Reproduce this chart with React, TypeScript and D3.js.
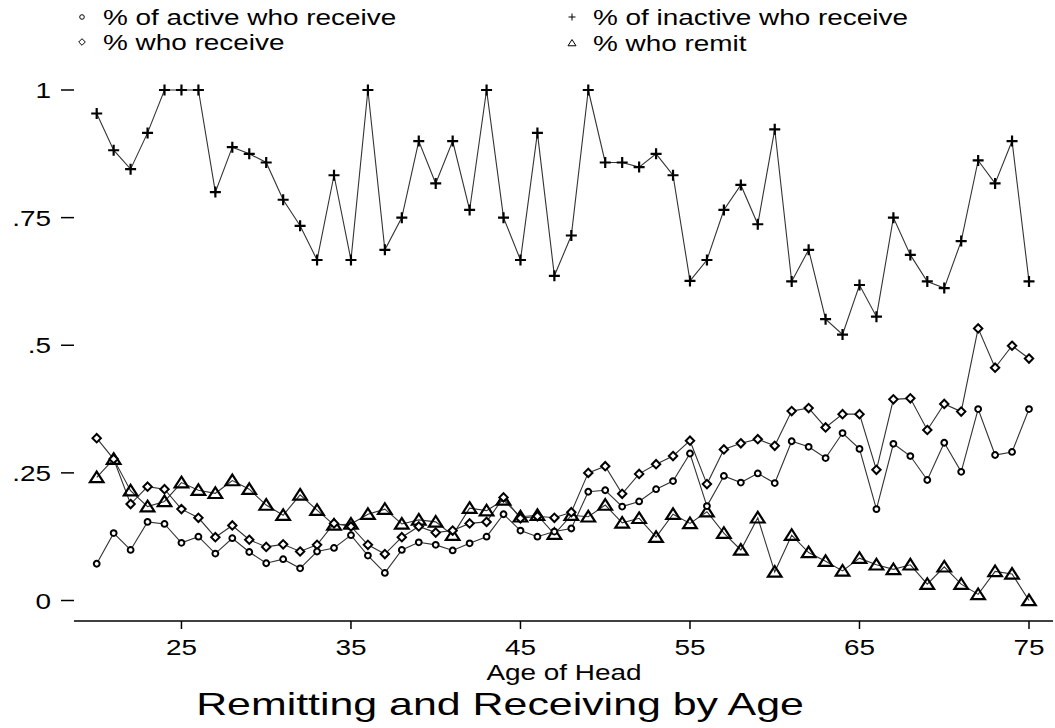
import React, { useEffect, useRef } from 'react';
import * as d3 from 'd3';

// ages of household head (x axis)
const ages = [
  20, 21, 22, 23, 24, 25, 26, 27, 28, 29,
  30, 31, 32, 33, 34, 35, 36, 37, 38, 39,
  40, 41, 42, 43, 44, 45, 46, 47, 48, 49,
  50, 51, 52, 53, 54, 55, 56, 57, 58, 59,
  60, 61, 62, 63, 64, 65, 66, 67, 68, 69,
  70, 71, 72, 73, 74, 75,
];

const activeReceive = [
  0.072, 0.132, 0.099, 0.154, 0.150, 0.113, 0.125, 0.092, 0.122, 0.095,
  0.073, 0.081, 0.063, 0.096, 0.103, 0.128, 0.088, 0.054, 0.099, 0.114,
  0.109, 0.098, 0.112, 0.125, 0.169, 0.137, 0.125, 0.135, 0.141, 0.213,
  0.216, 0.184, 0.194, 0.218, 0.234, 0.288, 0.185, 0.244, 0.231, 0.249,
  0.230, 0.312, 0.301, 0.279, 0.328, 0.297, 0.179, 0.307, 0.283, 0.236,
  0.309, 0.252, 0.375, 0.285, 0.291, 0.375,
];

const inactiveReceive = [
  0.954, 0.882, 0.845, 0.916, 1, 1, 1, 0.800, 0.888, 0.875,
  0.858, 0.785, 0.734, 0.667, 0.833, 0.667, 1, 0.687, 0.750, 0.900,
  0.817, 0.900, 0.765, 1, 0.750, 0.667, 0.916, 0.636, 0.715, 1,
  0.858, 0.858, 0.849, 0.875, 0.833, 0.626, 0.667, 0.765, 0.814, 0.737,
  0.923, 0.625, 0.687, 0.551, 0.521, 0.618, 0.556, 0.750, 0.677, 0.625,
  0.612, 0.704, 0.862, 0.817, 0.900, 0.625,
];

const allReceive = [
  0.318, 0.277, 0.189, 0.223, 0.218, 0.179, 0.162, 0.124, 0.147, 0.119,
  0.105, 0.110, 0.096, 0.109, 0.151, 0.145, 0.109, 0.091, 0.124, 0.145,
  0.133, 0.137, 0.151, 0.154, 0.202, 0.161, 0.165, 0.162, 0.173, 0.250,
  0.263, 0.209, 0.248, 0.267, 0.283, 0.313, 0.228, 0.296, 0.308, 0.316,
  0.303, 0.371, 0.377, 0.339, 0.365, 0.365, 0.256, 0.394, 0.396, 0.334,
  0.385, 0.370, 0.533, 0.456, 0.499, 0.474,
];

const remit = [
  0.241, 0.277, 0.215, 0.184, 0.194, 0.231, 0.216, 0.210, 0.235, 0.218,
  0.187, 0.167, 0.207, 0.177, 0.148, 0.150, 0.169, 0.179, 0.150, 0.158,
  0.154, 0.128, 0.181, 0.176, 0.197, 0.164, 0.167, 0.130, 0.167, 0.164,
  0.187, 0.152, 0.161, 0.124, 0.169, 0.151, 0.174, 0.132, 0.099, 0.162,
  0.056, 0.128, 0.094, 0.077, 0.058, 0.083, 0.070, 0.061, 0.070, 0.032,
  0.066, 0.032, 0.012, 0.057, 0.052, 0,
];

const xTicks = [25, 35, 45, 55, 65, 75];
const yTicks = [0, 0.25, 0.5, 0.75, 1];
const yTickLabels = ['0', '.25', '.5', '.75', '1'];

const legendLabels = [
  '% of active who receive',
  '% of inactive who receive',
  '% who receive',
  '% who remit',
];

type Shape = 'circle' | 'plus' | 'diamond' | 'triangle';

const markerPath = (shape: Shape, s: number) => {
  const p = d3.path();
  if (shape === 'circle') {
    p.arc(0, 0, s, 0, Math.PI * 2);
  } else if (shape === 'diamond') {
    p.moveTo(0, -s); p.lineTo(s, 0); p.lineTo(0, s); p.lineTo(-s, 0); p.closePath();
  } else if (shape === 'plus') {
    p.moveTo(-s, 0); p.lineTo(s, 0); p.moveTo(0, -s); p.lineTo(0, s);
  } else {
    const h = s * 0.866;
    p.moveTo(0, -h); p.lineTo(s, h * 0.8); p.lineTo(-s, h * 0.8); p.closePath();
  }
  return p.toString();
};

const W = 1055;
const H = 728;
const SX = 1.27; // the original's text is stretched sideways
const FONT = '"Liberation Sans", Arial, Helvetica, sans-serif';

const App: React.FC = () => {
  const ref = useRef<SVGSVGElement>(null);

  useEffect(() => {
    const svg = d3.select(ref.current);
    svg.html('');

    const x = d3.scaleLinear().domain([20, 75]).range([96.7, 1029]);
    const y = d3.scaleLinear().domain([0, 1]).range([600.5, 90]);

    const text = (tx: number, ty: number, str: string, size: number, anchor: string, sx = SX) =>
      svg.append('text')
        .attr('transform', `translate(${tx},${ty}) scale(${sx},1)`)
        .attr('text-anchor', anchor)
        .attr('font-family', FONT)
        .attr('font-size', size)
        .attr('fill', '#000')
        .text(str);

    // x axis
    const axisY = 621;
    svg.append('line')
      .attr('x1', 74).attr('x2', 1053)
      .attr('y1', axisY).attr('y2', axisY)
      .attr('stroke', '#000').attr('stroke-width', 1.5);
    xTicks.forEach(t => {
      svg.append('line')
        .attr('x1', x(t)).attr('x2', x(t))
        .attr('y1', axisY).attr('y2', axisY + 8)
        .attr('stroke', '#000').attr('stroke-width', 1.5);
      text(x(t), 655, String(t), 22, 'middle');
    });
    text(564, 680, 'Age of Head', 22, 'middle');

    // y axis (ticks only)
    yTicks.forEach((t, i) => {
      svg.append('line')
        .attr('x1', 61).attr('x2', 74)
        .attr('y1', y(t)).attr('y2', y(t))
        .attr('stroke', '#000').attr('stroke-width', 1.5);
      text(51, y(t) + 8, yTickLabels[i], 22, 'end');
    });

    text(500, 715, 'Remitting and Receiving by Age', 32, 'middle', 1.34);

    const series: { values: number[]; shape: Shape; size: number; sw: number; fill: string }[] = [
      { values: inactiveReceive, shape: 'plus', size: 5.5, sw: 2.2, fill: 'none' },
      { values: remit, shape: 'triangle', size: 6.8, sw: 2.2, fill: 'none' },
      { values: allReceive, shape: 'diamond', size: 4.2, sw: 2, fill: '#fff' },
      { values: activeReceive, shape: 'circle', size: 2.9, sw: 2, fill: '#fff' },
    ];

    const line = d3.line<number>()
      .x((_, i) => x(ages[i]))
      .y(d => y(d));

    series.forEach(s => {
      svg.append('path')
        .attr('d', line(s.values))
        .attr('fill', 'none')
        .attr('stroke', '#333')
        .attr('stroke-width', 1.1);
    });

    series.forEach(s => {
      svg.append('g')
        .selectAll('path')
        .data(s.values)
        .enter()
        .append('path')
        .attr('transform', (d, i) => `translate(${x(ages[i])},${y(d)})`)
        .attr('d', markerPath(s.shape, s.size))
        .attr('fill', s.fill)
        .attr('stroke', '#000')
        .attr('stroke-width', s.sw);
    });

    // legend, two columns
    const legend = [
      { shape: 'circle' as Shape, size: 2.3, cx: 82, cy: 17 },
      { shape: 'plus' as Shape, size: 3.5, cx: 572, cy: 17 },
      { shape: 'diamond' as Shape, size: 3.3, cx: 82, cy: 42 },
      { shape: 'triangle' as Shape, size: 4, cx: 572, cy: 43 },
    ];
    legend.forEach((l, i) => {
      svg.append('path')
        .attr('transform', `translate(${l.cx},${l.cy})`)
        .attr('d', markerPath(l.shape, l.size))
        .attr('fill', 'none')
        .attr('stroke', '#000')
        .attr('stroke-width', 1);
      text(l.cx + 21, l.cy + 8, legendLabels[i], 22, 'start');
    });
  }, []);

  return (
    <svg
      ref={ref}
      width={W}
      height={H}
      style={{ position: 'absolute', left: 0, top: 0, background: '#fff' }}
    ></svg>
  );
};

export default App;
